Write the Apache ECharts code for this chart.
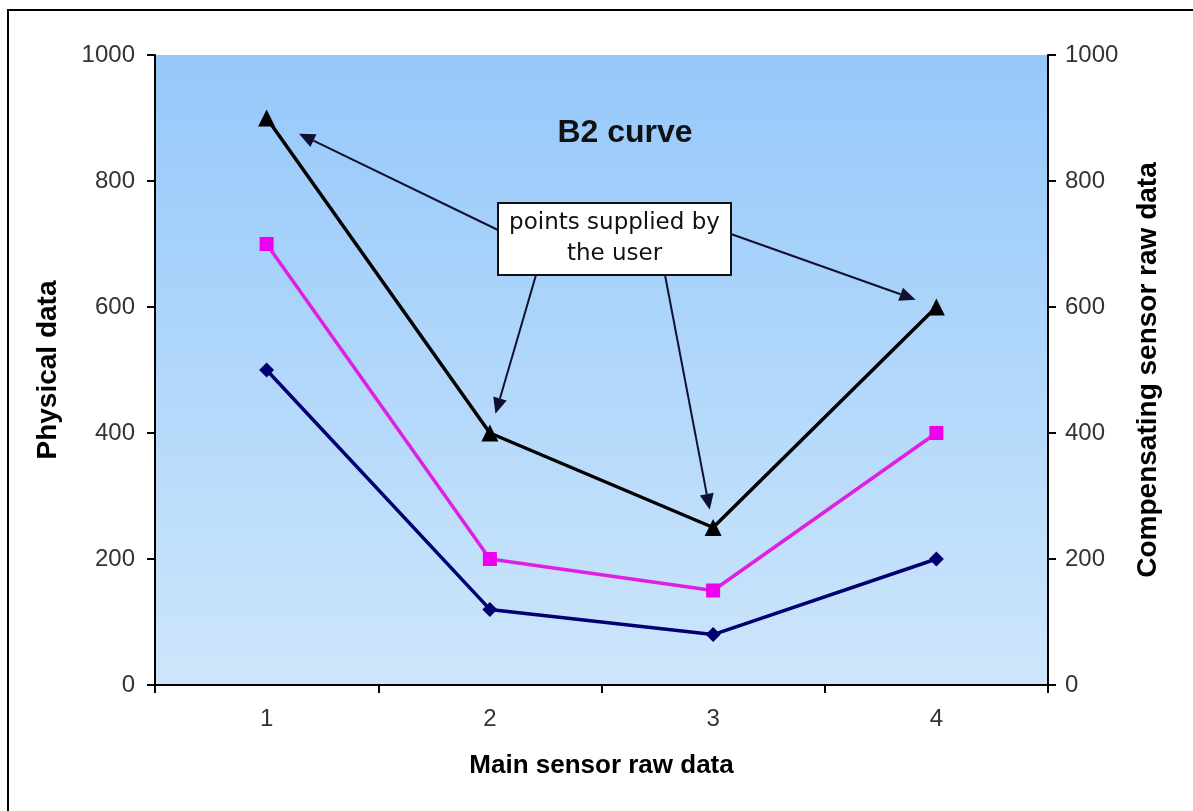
<!DOCTYPE html>
<html>
<head>
<meta charset="utf-8">
<script src="https://cdn.jsdelivr.net/npm/echarts@6/dist/echarts.min.js"></script>
<style>
html,body{margin:0;padding:0;background:#fff;}
#chart{width:1193px;height:811px;}
</style>
</head>
<body>
<div id="chart"></div>
<script>
const categories = ['1', '2', '3', '4'];
const blackSeries = [900, 400, 250, 600];
const magentaSeries = [700, 200, 150, 400];
const navySeries = [500, 120, 80, 200];
const yTicks = [0, 200, 400, 600, 800, 1000];
const titleText = 'B2 curve';
const noteText = 'points supplied by\nthe user';

const FONT = '"Liberation Sans", Arial, sans-serif';
const chart = echarts.init(document.getElementById('chart'), null, {renderer: 'canvas'});

const yAxisCommon = {
  type: 'value', min: yTicks[0], max: yTicks[yTicks.length - 1], interval: yTicks[1] - yTicks[0],
  axisLine: {show: true, lineStyle: {color: '#000', width: 2}},
  axisTick: {show: true, length: 8, lineStyle: {color: '#000', width: 2}},
  splitLine: {show: false},
  axisLabel: {color: '#333', fontSize: 24, fontFamily: FONT, formatter: v => String(v)},
  nameLocation: 'middle',
  nameTextStyle: {color: '#000', fontSize: 28, fontWeight: 'bold', fontFamily: FONT}
};

const option = {
  backgroundColor: '#fff',
  animation: false,
  title: {
    text: titleText, left: 620, top: 112, textAlign: 'center',
    textStyle: {fontSize: 32, fontWeight: 'bold', color: '#111', fontFamily: FONT}
  },
  grid: {
    left: 155, right: 145, top: 55, bottom: 126,
    show: true, borderWidth: 0,
    backgroundColor: new echarts.graphic.LinearGradient(0, 0, 0, 1, [
      {offset: 0, color: '#95C8FA'},
      {offset: 1, color: '#CDE6FB'}
    ])
  },
  xAxis: {
    type: 'category', data: categories, boundaryGap: true,
    name: 'Main sensor raw data', nameLocation: 'middle', nameGap: 68,
    nameTextStyle: {color: '#000', fontSize: 26, fontWeight: 'bold', fontFamily: FONT},
    axisLine: {show: true, lineStyle: {color: '#000', width: 2}},
    axisTick: {show: true, length: 8, lineStyle: {color: '#000', width: 2}},
    axisLabel: {color: '#333', fontSize: 24, fontFamily: FONT, margin: 22}
  },
  yAxis: [
    Object.assign({}, yAxisCommon, {
      position: 'left', name: 'Physical data', nameGap: 93,
      axisLabel: Object.assign({}, yAxisCommon.axisLabel, {margin: 20})
    }),
    Object.assign({}, yAxisCommon, {
      position: 'right', name: 'Compensating sensor raw data', nameGap: 86,
      nameRotate: 90,
      axisLabel: Object.assign({}, yAxisCommon.axisLabel, {margin: 17})
    })
  ],
  series: [
    {
      type: 'line', data: navySeries, yAxisIndex: 0,
      symbol: 'diamond', symbolSize: 15,
      lineStyle: {color: '#000070', width: 3.5},
      itemStyle: {color: '#000070'}, z: 3
    },
    {
      type: 'line', data: magentaSeries, yAxisIndex: 0,
      symbol: 'rect', symbolSize: 14,
      lineStyle: {color: '#E020E0', width: 3.5},
      itemStyle: {color: '#EE00EE'}, z: 4
    },
    {
      type: 'line', data: blackSeries, yAxisIndex: 0,
      symbol: 'triangle', symbolSize: 17,
      lineStyle: {color: '#000', width: 3.5},
      itemStyle: {color: '#000'}, z: 5
    }
  ]
};
chart.setOption(option);

// annotation: box and arrows pointing at black series points
const box = {x: 498, y: 203, w: 233, h: 72};
const arrowStarts = [
  [498, 230],   // to point 1
  [536, 275],   // to point 2
  [665, 275],   // to point 3
  [731, 234]    // to point 4
];
const tipGap = [36, 20, 18, 22];
const graphics = [];
// outer frame
graphics.push({
  type: 'rect', shape: {x: 8, y: 10, width: 1200, height: 820},
  style: {fill: null, stroke: '#000', lineWidth: 2}, z: 100
});
arrowStarts.forEach((s, i) => {
  const p = chart.convertToPixel({xAxisIndex: 0, yAxisIndex: 0}, [i, blackSeries[i]]);
  const dx = p[0] - s[0], dy = p[1] - s[1];
  const len = Math.sqrt(dx * dx + dy * dy);
  const ux = dx / len, uy = dy / len;
  const tip = [p[0] - ux * tipGap[i], p[1] - uy * tipGap[i]];
  const hl = 16, hw = 7;
  const base = [tip[0] - ux * hl, tip[1] - uy * hl];
  graphics.push({
    type: 'line', shape: {x1: s[0], y1: s[1], x2: base[0], y2: base[1]},
    style: {stroke: '#101030', lineWidth: 2}, z: 50
  });
  graphics.push({
    type: 'polygon',
    shape: {points: [tip, [base[0] - uy * hw, base[1] + ux * hw], [base[0] + uy * hw, base[1] - ux * hw]]},
    style: {fill: '#101030'}, z: 50
  });
});
graphics.push({
  type: 'rect', shape: {x: box.x, y: box.y, width: box.w, height: box.h},
  style: {fill: '#fff', stroke: '#111', lineWidth: 2}, z: 60
});
graphics.push({
  type: 'text', x: box.x + box.w / 2, y: box.y + box.h / 2, z: 61,
  style: {
    text: noteText, fill: '#111', fontSize: 23, fontFamily: '"DejaVu Sans", sans-serif',
    align: 'center', verticalAlign: 'middle', lineHeight: 31
  }
});
chart.setOption({graphic: graphics});
</script>
</body>
</html>
